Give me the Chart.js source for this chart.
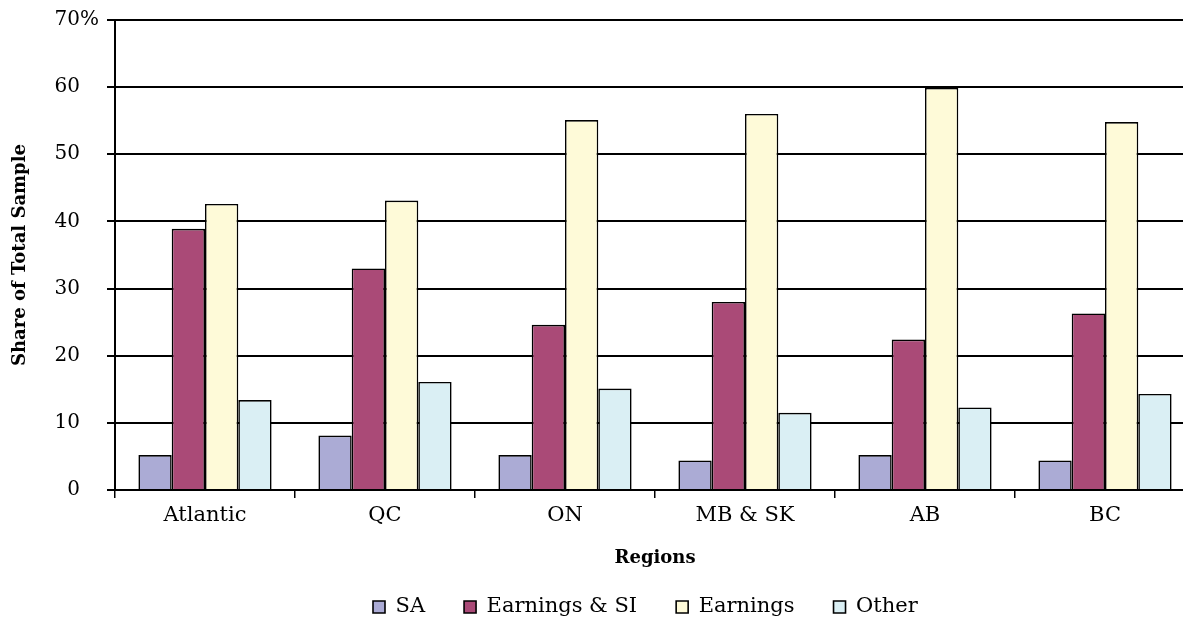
<!DOCTYPE html>
<html>
<head>
<meta charset="utf-8">
<script src="https://cdn.jsdelivr.net/npm/chart.js@4"></script>
<style>
  html, body { margin: 0; padding: 0; background: #ffffff; overflow: hidden; }
  #wrap { width: 1200px; height: 619px; }
</style>
</head>
<body>
<div id="wrap"><canvas id="regionChart"></canvas></div>
<script>
const regions = ["Atlantic", "QC", "ON", "MB & SK", "AB", "BC"];
const saValues = [5.2, 8.1, 5.2, 4.4, 5.2, 4.4];
const earningsSiValues = [38.9, 33.0, 24.6, 28.0, 22.4, 26.3];
const earningsValues = [42.6, 43.1, 55.1, 56.0, 59.9, 54.8];
const otherValues = [13.4, 16.1, 15.1, 11.5, 12.3, 14.3];

const serif = "'DejaVu Serif', 'Liberation Serif', serif";
const legendGap = 39;

// draws the "%" after the top tick, hanging past the right-aligned numbers
const percentMark = {
  id: "percentMark",
  afterDraw(chart) {
    const y = chart.scales.y;
    const ctx = chart.ctx;
    ctx.save();
    ctx.font = "20px " + serif;
    ctx.fillStyle = "#000";
    ctx.textAlign = "left";
    ctx.textBaseline = "middle";
    ctx.fillText("%", y.right - 8 - 27, y.getPixelForValue(70));
    ctx.restore();
  }
};

// wide item spacing in the legend without letting it eat the plot height,
// then put it where the original sits
const legendPlace = {
  id: "legendPlace",
  afterInit(chart) {
    const lg = chart.legend;
    const fit = lg.fit;
    lg.fit = function () {
      fit.call(this);
      this.height = 40;
    };
  },
  afterLayout(chart) {
    const lg = chart.legend;
    const firstX = (lg.left + legendGap + lg.right - lg.lineWidths[0]) / 2;
    const dx = 373 - firstX;
    const dy = 607 - (lg.top + legendGap + 10.5);
    lg.left += dx; lg.right += dx;
    lg.top += dy;
    lg.bottom = chart.height;
  }
};

function makeSet(label, values, color) {
  return {
    label,
    data: values,
    backgroundColor: color,
    borderColor: "#000000",
    borderWidth: 1.6,
    categoryPercentage: 0.74,
    barPercentage: 1.0
  };
}

const ctx = document.getElementById("regionChart").getContext("2d");

new Chart(ctx, {
  type: "bar",
  data: {
    labels: regions,
    datasets: [
      makeSet("SA", saValues, "#ABABD5"),
      makeSet("Earnings & SI", earningsSiValues, "#AA4A77"),
      makeSet("Earnings", earningsValues, "#FEFAD8"),
      makeSet("Other", otherValues, "#DAEFF4")
    ]
  },
  options: {
    responsive: true,
    maintainAspectRatio: false,
    animation: false,
    layout: { padding: { top: 20, left: 6, right: 5, bottom: 0 } },
    plugins: {
      legend: {
        position: "bottom",
        labels: {
          color: "#000",
          font: { family: serif, size: 21 },
          boxWidth: 12,
          boxHeight: 12,
          padding: legendGap
        }
      },
      tooltip: { enabled: false }
    },
    scales: {
      x: {
        afterFit: (scale) => { scale.height = 89; },
        title: {
          display: true,
          text: "Regions",
          color: "#000",
          font: { family: serif, size: 18, weight: "bold" },
          padding: { top: 0, bottom: 10 }
        },
        ticks: {
          color: "#000",
          font: { family: serif, size: 21 },
          padding: 5
        },
        grid: {
          display: true,
          offset: true,
          drawOnChartArea: false,
          color: "#000",
          lineWidth: 1.5,
          tickLength: 8
        },
        border: { color: "#000", width: 2 }
      },
      y: {
        min: 0,
        max: 70,
        afterFit: (scale) => {
          scale.width = 109;
          scale.paddingTop = 0;
          scale.paddingBottom = 0;
        },
        title: {
          display: true,
          text: "Share of Total Sample",
          color: "#000",
          font: { family: serif, size: 18, weight: "bold" },
          padding: { top: 4, bottom: 20 }
        },
        ticks: {
          stepSize: 10,
          color: "#000",
          font: { family: serif, size: 20 },
          padding: 27
        },
        grid: {
          color: "#000",
          lineWidth: 2,
          tickLength: 8
        },
        border: { color: "#000", width: 2 }
      }
    }
  },
  plugins: [percentMark, legendPlace]
});
</script>
</body>
</html>
